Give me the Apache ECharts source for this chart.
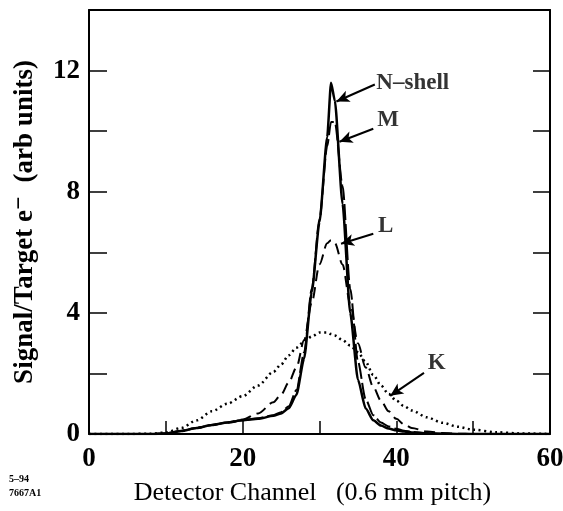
<!DOCTYPE html>
<html>
<head>
<meta charset="utf-8">
<script src="https://cdn.jsdelivr.net/npm/echarts@6/dist/echarts.min.js"></script>
<style>
html,body{margin:0;padding:0;background:#fff;}
#main{width:563px;height:511px;}
</style>
</head>
<body>
<div id="main"></div>
<script>
// detector channel (x) shared by all curves
var channels = [0, 5, 8, 10, 12, 14, 16, 18, 20, 22, 24, 25, 26, 27, 28, 29, 30, 31, 31.5, 32, 33, 34, 35, 36, 37, 38, 39, 40, 41, 42, 44, 46, 48, 50, 53, 56, 60];
// signal per shell
var nShell = [0, 0, 0, 0.02, 0.1, 0.2, 0.3, 0.38, 0.45, 0.5, 0.6, 0.68, 0.85, 1.3, 2.5, 4.7, 7.0, 9.8, 11.6, 11.0, 7.6, 4.0, 1.8, 0.85, 0.45, 0.28, 0.18, 0.12, 0.08, 0.05, 0.02, 0.01, 0, 0, 0, 0, 0];
var mShell = [0, 0, 0, 0.02, 0.1, 0.2, 0.3, 0.38, 0.45, 0.52, 0.62, 0.72, 0.92, 1.45, 2.7, 4.8, 7.1, 9.5, 10.3, 10.3, 8.2, 4.8, 2.4, 1.15, 0.62, 0.38, 0.25, 0.17, 0.11, 0.07, 0.03, 0.01, 0, 0, 0, 0, 0];
var lShell = [0, 0, 0, 0.02, 0.1, 0.2, 0.3, 0.38, 0.48, 0.68, 1.05, 1.3, 1.7, 2.2, 3.1, 4.35, 5.6, 6.3, 6.4, 6.3, 5.6, 4.3, 3.0, 2.2, 1.55, 1.1, 0.75, 0.5, 0.32, 0.2, 0.08, 0.03, 0.01, 0, 0, 0, 0];
var kShell = [0, 0, 0.01, 0.05, 0.2, 0.45, 0.75, 1.0, 1.25, 1.6, 2.05, 2.3, 2.6, 2.85, 3.05, 3.22, 3.35, 3.35, 3.3, 3.25, 3.1, 2.92, 2.7, 2.38, 1.95, 1.6, 1.32, 1.1, 0.92, 0.78, 0.55, 0.37, 0.24, 0.14, 0.06, 0.02, 0];

// annotations
var noteNames = ['N\u2013shell', 'M', 'L', 'K'];
var notePos = [[37.4, 11.6], [37.5, 10.35], [37.6, 6.88], [44.1, 2.35]];
var arrowFrom = [[37.2, 11.54], [37.0, 10.08], [37.0, 6.61], [43.6, 2.02]];
var arrowTo = [[32.2, 10.98], [32.6, 9.65], [32.8, 6.28], [39.2, 1.26]];

var serif = '"Liberation Serif", "DejaVu Serif", serif';

function pairs(ys) {
	return channels.map(function (x, i) { return [x, ys[i]]; });
}

var chart = echarts.init(document.getElementById('main'));

var option = {
	animation: false,
	backgroundColor: '#fff',
	grid: { left: 89, right: 13, top: 10, bottom: 77, outerBoundsMode: 'none', containLabel: false },
	xAxis: [{
		type: 'value',
		min: 0, max: 60, interval: 10,
		name: 'Detector Channel   (0.6 mm pitch)',
		nameLocation: 'middle',
		nameGap: 46,
		nameTextStyle: { fontFamily: serif, fontSize: 26, color: '#000', padding: [0, 14, 0, 0] },
		axisLine: { lineStyle: { color: '#000', width: 2 } },
		axisTick: { inside: true, length: 13, lineStyle: { color: '#000', width: 1.5 } },
		axisLabel: {
			margin: 12, fontFamily: serif, fontWeight: 'bold', fontSize: 27, color: '#000',
			formatter: function (v) { return v % 20 === 0 ? v : ''; }
		},
		splitLine: { show: false }
	}, {
		type: 'value', position: 'top',
		min: 0, max: 60,
		axisLine: { onZero: false, lineStyle: { color: '#000', width: 2 } },
		axisTick: { show: false }, axisLabel: { show: false }, splitLine: { show: false }
	}],
	yAxis: [{
		type: 'value',
		min: 0, max: 14, interval: 2,
		name: 'Signal/Target e\u207B  (arb units)',
		nameLocation: 'middle',
		nameGap: 50,
		nameTextStyle: { fontFamily: serif, fontWeight: 'bold', fontSize: 27, color: '#000' },
		axisLine: { lineStyle: { color: '#000', width: 2 } },
		axisTick: { inside: true, length: 18, lineStyle: { color: '#000', width: 1.5 } },
		axisLabel: {
			margin: 9, fontFamily: serif, fontWeight: 'bold', fontSize: 27, color: '#000',
			formatter: function (v) { return v % 4 === 0 && v < 14 ? v : ''; }
		},
		splitLine: { show: false }
	}, {
		type: 'value', position: 'right',
		min: 0, max: 14, interval: 2,
		axisLine: { onZero: false, lineStyle: { color: '#000', width: 2 } },
		axisTick: { inside: true, length: 17, lineStyle: { color: '#000', width: 1.5 } },
		axisLabel: { show: false }, splitLine: { show: false }
	}],
	series: [{
		name: 'K', type: 'line', data: pairs(kShell), showSymbol: false, smooth: 0.3, smoothMonotone: 'x',
		lineStyle: { color: '#000', width: 2.5, type: [2, 3.5] }
	}, {
		name: 'L', type: 'line', data: pairs(lShell), showSymbol: false, smooth: 0.3, smoothMonotone: 'x',
		lineStyle: { color: '#000', width: 2, type: [11, 6] }
	}, {
		name: 'M', type: 'line', data: pairs(mShell), showSymbol: false, smooth: 0.25, smoothMonotone: 'x',
		lineStyle: { color: '#000', width: 2, type: [16, 4] }
	}, {
		name: 'N-shell', type: 'line', data: pairs(nShell), showSymbol: false, smooth: 0.2, smoothMonotone: 'x',
		lineStyle: { color: '#000', width: 2.5 }
	}, {
		name: 'notes', type: 'scatter', symbolSize: 0,
		data: notePos.map(function (p, i) { return { value: p, name: noteNames[i] }; }),
		label: {
			show: true, position: 'right', distance: 0,
			formatter: function (p) { return p.name; },
			fontFamily: serif, fontWeight: 'bold', fontSize: 23, color: '#000'
		},
		markLine: {
			silent: true, symbol: ['none', 'arrow'], symbolSize: [9, 13],
			label: { show: false },
			lineStyle: { color: '#000', width: 2, type: 'solid' },
			data: arrowFrom.map(function (f, i) { return [{ coord: f }, { coord: arrowTo[i] }]; })
		}
	}],
	graphic: [{
		type: 'text', left: 9, top: 474,
		style: { text: '5\u201394', font: 'bold 10px ' + serif, fill: '#000' }
	}, {
		type: 'text', left: 9, top: 488,
		style: { text: '7667A1', font: 'bold 10px ' + serif, fill: '#000' }
	}]
};

chart.setOption(option);
</script>
</body>
</html>
